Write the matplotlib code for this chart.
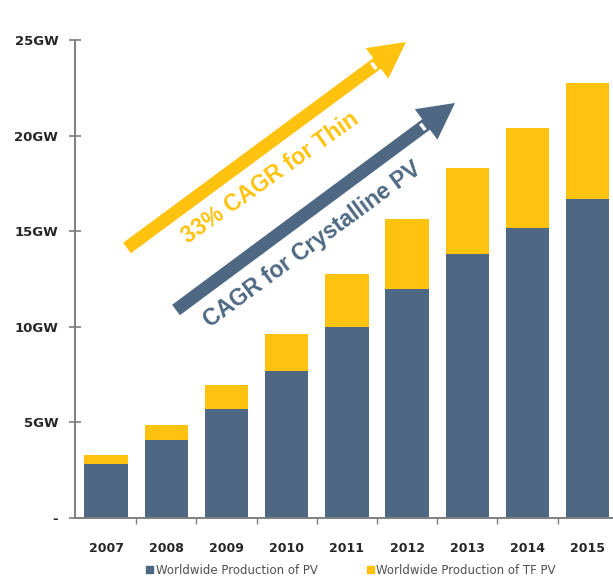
import matplotlib.pyplot as plt
import numpy as np
from matplotlib.patches import Patch, FancyArrow

plt.rcParams['font.family'] = ['Liberation Sans', 'DejaVu Sans']

years = ['2007', '2008', '2009', '2010', '2011', '2012', '2013', '2014', '2015']
# GW produced, crystalline PV and stacked total incl. thin film
pv_gw = [2.8, 4.06, 5.7, 7.69, 9.99, 11.98, 13.79, 15.15, 16.68]
total_gw = [3.29, 4.85, 6.94, 9.62, 12.76, 15.62, 18.29, 20.41, 22.73]
tf_gw = [t - p for t, p in zip(total_gw, pv_gw)]

y_ticks = [0, 5, 10, 15, 20, 25]
y_labels = ['-', '5GW', '10GW', '15GW', '20GW', '25GW']

blue = '#4e6883'
yellow = '#ffc20e'

fig = plt.figure(figsize=(6.13, 5.77), dpi=100)
W, H = 613, 577
ax = fig.add_axes([75 / W, 1 - 518 / H, 1 - 75 / W, (518 - 40) / H])

x = np.arange(len(years))
ax.bar(x, pv_gw, width=0.72, color=blue, label='Worldwide Production of PV')
ax.bar(x, tf_gw, width=0.72, bottom=pv_gw, color=yellow,
       label='Worldwide Production of TF PV')

ax.set_xlim(-0.515, 8.42)
ax.set_ylim(0, 25)
for s in ['top', 'right']:
    ax.spines[s].set_visible(False)
for s in ['left', 'bottom']:
    ax.spines[s].set_color('#7f7f7f')
    ax.spines[s].set_linewidth(1.4)

ax.set_yticks(y_ticks)
ax.set_yticklabels(y_labels, fontsize=9.5, fontweight='bold', color='#262626',
                   family='DejaVu Sans')
ax.tick_params(axis='y', direction='inout', length=8, width=1.2,
               color='#7f7f7f', pad=8)

ax.set_xticks(x)
ax.set_xticklabels(years, fontsize=9, fontweight='bold', color='#262626',
                   family='DejaVu Sans')
ax.tick_params(axis='x', which='major', length=0, pad=17)
ax.set_xticks(x[:-1] + 0.5, minor=True)
ax.tick_params(axis='x', which='minor', direction='out', length=4,
               width=1, color='#7f7f7f')

handles = [Patch(color=blue), Patch(color=yellow)]
leg = fig.legend(handles, ['Worldwide Production of PV', 'Worldwide Production of TF PV'],
                 loc='center', bbox_to_anchor=(351 / W, 1 - 570 / H), ncol=2,
                 frameon=False, fontsize=8.5, handlelength=0.6, handleheight=0.6,
                 handletextpad=0.2, columnspacing=4.2, labelcolor='#505050',
                 prop={'family': 'DejaVu Sans', 'size': 8.5})

# overlay in pixel units for the growth arrows
ov = fig.add_axes([0, 0, 1, 1])
ov.set_xlim(0, W)
ov.set_ylim(H, 0)
ov.axis('off')


def growth_arrow(x0, y0, x1, y1, color):
    dx, dy = x1 - x0, y1 - y0
    L = np.hypot(dx, dy)
    ov.add_patch(FancyArrow(x0, y0, dx, dy, width=13, head_width=38,
                            head_length=36, length_includes_head=True,
                            color=color, lw=0))
    ux, uy = dx / L, dy / L
    cx, cy = x1 - ux * 40, y1 - uy * 40
    ov.plot([cx - uy * 4, cx + uy * 4], [cy + ux * 4, cy - ux * 4],
            color='white', lw=2.5, solid_capstyle='butt')


growth_arrow(127, 248, 406, 42, yellow)
growth_arrow(176, 310, 455, 103, blue)

ov.text(270, 178, '33% CAGR for Thin', rotation=35.3, color=yellow,
        fontsize=16.5, fontweight='bold', ha='center', va='center',
        rotation_mode='anchor')
ov.text(312, 245, 'CAGR for Crystalline PV', rotation=36.3, color=blue,
        fontsize=16.5, fontweight='bold', ha='center', va='center',
        rotation_mode='anchor')

fig.savefig('out.png', dpi=100)
